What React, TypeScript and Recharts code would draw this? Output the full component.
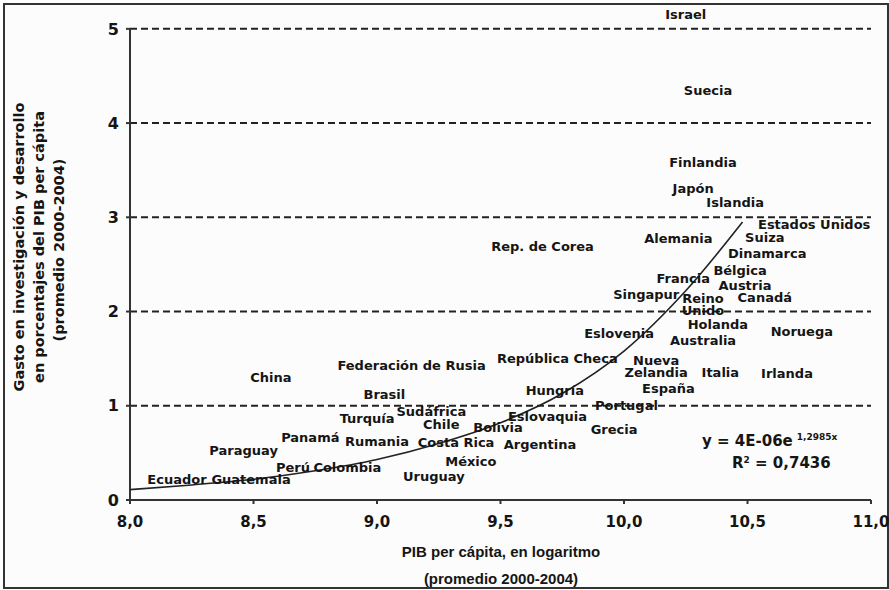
import React from 'react'
import {
  ScatterChart,
  Scatter,
  XAxis,
  YAxis,
  ReferenceLine,
} from 'recharts'

// Country labels, log GDP per capita (x) and R&D spending % (y)
const countries = [
  'Israel', 'Suecia', 'Finlandia', 'Japón', 'Islandia', 'Estados Unidos', 'Suiza',
  'Dinamarca', 'Bélgica', 'Austria', 'Francia', 'Singapur', 'Reino\nUnido', 'Canadá',
  'Holanda', 'Noruega', 'Australia', 'Eslovenia', 'República Checa', 'Nueva\nZelandia',
  'Italia', 'Irlanda', 'España', 'Hungría', 'Portugal', 'Eslovaquia', 'Grecia',
  'Bolivia', 'Argentina', 'Costa Rica', 'México', 'Uruguay', 'Chile', 'Sudáfrica',
  'Brasil', 'Federación de Rusia', 'China', 'Turquía', 'Panamá', 'Rumania', 'Paraguay',
  'Perú', 'Colombia', 'Ecuador', 'Guatemala', 'Rep. de Corea', 'Alemania',
]
const pibLog = [
  10.25, 10.34, 10.32, 10.28, 10.45, 10.77, 10.57,
  10.58, 10.47, 10.49, 10.24, 10.09, 10.32, 10.57,
  10.38, 10.72, 10.32, 9.98, 9.73, 10.13,
  10.39, 10.66, 10.18, 9.72, 10.01, 9.69, 9.96,
  9.49, 9.66, 9.32, 9.38, 9.23, 9.26, 9.22,
  9.03, 9.14, 8.57, 8.96, 8.73, 9.0, 8.46,
  8.66, 8.88, 8.19, 8.49, 9.67, 10.22,
]
const gastoID = [
  5.16, 4.35, 3.59, 3.31, 3.16, 2.93, 2.79,
  2.62, 2.44, 2.28, 2.36, 2.19, 2.08, 2.15,
  1.87, 1.79, 1.7, 1.77, 1.51, 1.42,
  1.36, 1.35, 1.19, 1.17, 1.01, 0.89, 0.75,
  0.77, 0.59, 0.62, 0.41, 0.25, 0.81, 0.94,
  1.13, 1.43, 1.31, 0.87, 0.67, 0.63, 0.53,
  0.35, 0.35, 0.22, 0.22, 2.7, 2.78,
]

// Exponential trend line, sampled from the drawn curve
const trendX = [8.0, 8.25, 8.5, 8.75, 9.0, 9.25, 9.5, 9.75, 10.0, 10.25, 10.48]
const trendY = [0.11, 0.16, 0.22, 0.31, 0.43, 0.6, 0.82, 1.13, 1.58, 2.22, 2.95]

const xTicks = [8, 8.5, 9, 9.5, 10, 10.5, 11]
const yTicks = [0, 1, 2, 3, 4, 5]
const gridLines = [1, 2, 3, 4, 5]

const labelData = countries.map((name, i) => ({ name, x: pibLog[i], y: gastoID[i] }))
const trendData = trendX.map((x, i) => ({ x, y: trendY[i] }))

const WIDE = '"DejaVu Sans", Verdana, sans-serif'
const FONT = '"Liberation Sans", Arial, sans-serif'
const INK = '#151515'

const CountryLabel = (props: any) => {
  const { cx, cy, payload } = props
  const lines: string[] = payload.name.split('\n')
  const lh = 12
  const start = cy - ((lines.length - 1) * lh) / 2
  return (
    <text
      x={cx}
      y={start}
      textAnchor="middle"
      dominantBaseline="central"
      fontFamily={WIDE}
      fontWeight="bold"
      fontSize={13}
      fill={INK}
    >
      {lines.map((l, i) => (
        <tspan key={i} x={cx} y={start + i * lh}>
          {l}
        </tspan>
      ))}
    </text>
  )
}

const YTitle = () => (
  <g fontFamily={WIDE} fontWeight="bold" fontSize={14.5} fill={INK}>
    <text x={19} y={247} textAnchor="middle" dominantBaseline="central" transform="rotate(-90 19 247)">
      Gasto en investigación y desarrollo
    </text>
    <text x={39} y={247} textAnchor="middle" dominantBaseline="central" transform="rotate(-90 39 247)">
      en porcentajes del PIB per cápita
    </text>
    <text x={59} y={250} textAnchor="middle" dominantBaseline="central" transform="rotate(-90 59 250)">
      (promedio 2000-2004)
    </text>
  </g>
)

const XTitle = () => (
  <g fontFamily={FONT} fontWeight="bold" fontSize={15} fill={INK}>
    <text x={501} y={551} textAnchor="middle" dominantBaseline="central">
      PIB per cápita, en logaritmo
    </text>
    <text x={501} y={578} textAnchor="middle" dominantBaseline="central">
      (promedio 2000-2004)
    </text>
  </g>
)

export default function App() {
  return (
    <div style={{ position: 'absolute', left: 0, top: 0, width: 889, height: 590, background: '#fff' }}>
      <div
        style={{
          position: 'absolute',
          left: 3,
          top: 3,
          width: 882,
          height: 582,
          border: '2px solid #333',
          background: '#fcfcfc',
        }}
      />
      <div style={{ position: 'absolute', left: 0, top: 0 }}>
        <ScatterChart width={889} height={590} margin={{ top: 10, right: 18, bottom: 60, left: 100 }}>
          <XAxis
            type="number"
            dataKey="x"
            domain={[8, 11]}
            ticks={xTicks}
            height={30}
            tickFormatter={(v: number) => v.toFixed(1).replace('.', ',')}
            tick={{ fill: INK, fontSize: 15, fontWeight: 'bold', fontFamily: WIDE }}
            axisLine={{ stroke: '#333', strokeWidth: 2 }}
            tickLine={{ stroke: '#333', strokeWidth: 2 }}
            tickSize={4}
            tickMargin={12}
            label={<XTitle />}
          />
          <YAxis
            type="number"
            dataKey="y"
            domain={[0, 5.2]}
            ticks={yTicks}
            width={30}
            axisLine={false}
            tick={{ fill: INK, fontSize: 16, fontWeight: 'bold', fontFamily: WIDE }}
            tickLine={{ stroke: '#333', strokeWidth: 2 }}
            tickSize={4}
            tickMargin={7}
            label={<YTitle />}
          />
          {gridLines.map((v) => (
            <ReferenceLine key={v} y={v} stroke="#222" strokeWidth={2} strokeDasharray="7 4" />
          ))}
          <ReferenceLine
            segment={[{ x: 8, y: 0 }, { x: 8, y: 5 }]}
            stroke="#333"
            strokeWidth={2}
          />
          <Scatter
            data={trendData}
            line={{ stroke: '#222', strokeWidth: 1.6 }}
            lineType="joint"
            lineJointType="monotoneX"
            shape={() => <g />}
            isAnimationActive={false}
          />
          <Scatter data={labelData} shape={CountryLabel} isAnimationActive={false} />
        </ScatterChart>
      </div>
      <div
        style={{
          position: 'absolute',
          left: 702,
          top: 432,
          fontFamily: WIDE,
          fontWeight: 'bold',
          fontSize: 15,
          color: INK,
          lineHeight: '18px',
          whiteSpace: 'nowrap',
        }}
      >
        y = 4E-06e
        <span style={{ fontSize: 9, position: 'relative', top: -6, marginLeft: 4 }}>1,2985x</span>
      </div>
      <div
        style={{
          position: 'absolute',
          left: 732,
          top: 454,
          fontFamily: WIDE,
          fontWeight: 'bold',
          fontSize: 15,
          color: INK,
          lineHeight: '18px',
          whiteSpace: 'nowrap',
        }}
      >
        R<sup style={{ fontSize: 9, verticalAlign: 'top', lineHeight: '12px' }}>2</sup> = 0,7436
      </div>
    </div>
  )
}
